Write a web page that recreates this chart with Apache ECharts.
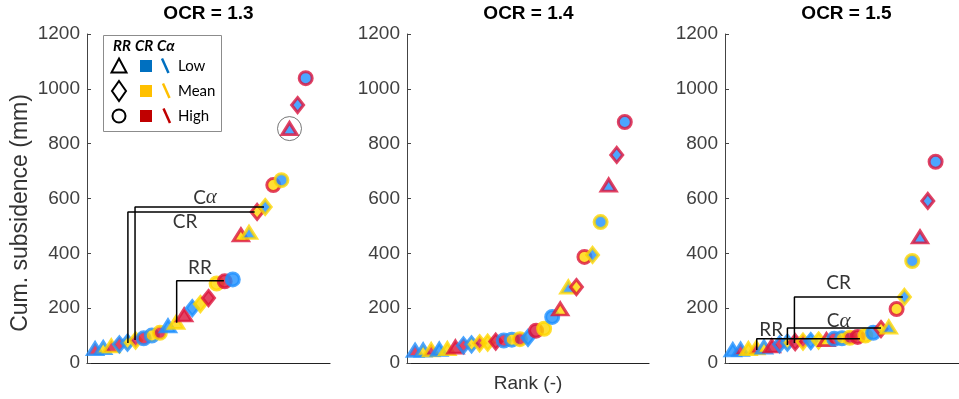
<!DOCTYPE html>
<html><head><meta charset="utf-8">
<script src="https://cdn.jsdelivr.net/npm/echarts/dist/echarts.min.js"></script>
<style>html,body{margin:0;padding:0;background:#fff}#c{width:959px;height:399px}</style>
</head><body><div id="c"></div>
<script>
// ---------- data ----------
const ranks = [1,2,3,4,5,6,7,8,9,10,11,12,13,14,15,16,17,18,19,20,21,22,23,24,25,26,27];
const yTicks = [0,200,400,600,800,1000,1200];
const panelTitles = ['OCR = 1.3','OCR = 1.4','OCR = 1.5'];

// OCR = 1.3
const v13 = [52,56,62,68,74,82,90,100,110,135,148,175,200,215,237,290,298,305,467,476,551,569,649,667,855,941,1039];
const rr13 = ['T','T','T','D','D','D','C','C','C','T','T','T','D','D','D','C','C','C','T','T','D','D','C','C','T','D','C'];
const cr13 = ['H','M','H','H','M','H','H','M','H','L','M','H','L','M','H','M','H','L','M','L','M','L','M','L','L','L','L'];
const ca13 = ['L','L','M','L','L','M','L','L','M','L','M','H','L','M','H','M','H','L','H','M','H','M','H','M','H','H','H'];

// OCR = 1.4
const v14 = [46,47,48,50,52,58,64,68,72,74,78,82,85,87,92,118,125,168,197,277,277,387,394,514,649,759,879];
const rr14 = ['T','T','T','T','T','T','D','D','D','D','D','C','C','C','D','C','C','C','T','T','D','C','D','C','T','D','C'];
const cr14 = ['H','M','H','L','M','H','H','M','H','M','H','H','M','H','L','H','M','L','M','L','M','M','L','L','L','L','L'];
const ca14 = ['L','L','M','L','M','H','L','L','M','M','H','L','L','M','L','H','M','L','H','M','H','H','M','M','H','H','H'];

// OCR = 1.5
const v15 = [48,50,52,55,58,62,68,74,76,78,80,82,85,88,90,92,95,100,110,124,131,197,241,372,460,591,734];
const rr15 = ['T','T','T','T','T','T','D','D','D','D','D','D','T','C','C','C','C','C','C','D','T','C','D','C','T','D','C'];
const cr15 = ['L','H','M','H','M','H','H','M','H','H','L','M','M','H','M','H','H','M','L','M','L','M','L','L','L','L','L'];
const ca15 = ['L','L','M','M','L','H','L','L','H','M','L','M','H','L','L','M','H','M','L','H','M','H','M','M','H','H','H'];

// annotation brackets [rank, value]
const ann13Ca = [[5.93,84],[5.93,569],[21.85,569]];
const ann13CR = [[5.05,73],[5.05,551],[20.7,551]];
const ann13RR = [[11.07,147],[11.07,300],[16.9,300]];
const ann15CR = [[8.9,73],[8.9,241],[22.8,241]];
const ann15Ca = [[8.0,66],[8.0,128],[20.0,128]];
const ann15RR = [[4.07,47],[4.07,88],[17.3,88]];
const lbl13 = [[14.57,602,'Ca'],[12.1,514,'CR'],[13.95,346,'RR']];
const lbl15 = [[14.57,292,'CR'],[14.57,153,'Ca'],[5.93,120,'RR']];
const circled13 = [[25,855]];

// ---------- styling ----------
const COL = {L:'#1E90FF', M:'#FFD700', H:'#DC143C'};
const SYM = {T:'triangle', D:'diamond', C:'circle'};
const SZ = {T:[15,12], D:[12,15], C:13};
const FONT = 'Liberation Sans, Arial, sans-serif';
const GRIDS = [{left:87,width:243},{left:407,width:242},{left:725,width:243}];

function pts(vals, rr, cr, ca){
  return ranks.map((r,i)=>({
    value:[r, vals[i]],
    symbol:SYM[rr[i]], symbolSize:SZ[rr[i]],
    itemStyle:{color:COL[cr[i]], borderColor:COL[ca[i]], borderWidth:3}
  }));
}
function bracket(d, idx){
  return {type:'line', xAxisIndex:idx, yAxisIndex:idx, data:d, symbol:'none', silent:true, z:5,
    lineStyle:{color:'#000', width:1.5}, animation:false};
}
function labels(d, idx){
  return {type:'scatter', xAxisIndex:idx, yAxisIndex:idx, data:d, symbolSize:1, z:6, silent:true,
    itemStyle:{color:'rgba(0,0,0,0)'},
    label:{show:true, position:'inside', color:'#000', fontFamily:'Lato, Open Sans, sans-serif', fontSize:19,
      formatter:p=> p.value[2]==='Ca' ? 'C{a|α}' : p.value[2],
      rich:{a:{fontFamily:'Liberation Serif, DejaVu Serif, serif', fontStyle:'italic', fontSize:21, color:'#000'}}}};
}

const grid = GRIDS.map(g=>({left:g.left, width:g.width, top:34, height:329, containLabel:false}));
const xAxis = GRIDS.map((g,i)=>({type:'value', gridIndex:i, min:0, max:30,
  axisLine:{show:true, lineStyle:{color:'#222', width:1.2}}, axisTick:{show:false}, axisLabel:{show:false}, splitLine:{show:false},
  name: i===1 ? 'Rank (-)' : '', nameLocation:'middle', nameGap:11,
  nameTextStyle:{fontFamily:FONT, fontSize:19, color:'#333'}}));
const yAxis = GRIDS.map((g,i)=>({type:'value', gridIndex:i, min:0, max:1200, interval:200,
  axisLine:{show:true, lineStyle:{color:'#444', width:1}},
  axisTick:{show:true, inside:true, length:4, lineStyle:{color:'#444'}},
  axisLabel:{fontFamily:FONT, fontSize:19, color:'#404040', margin:7,
    formatter:v=> yTicks.indexOf(v)>=0 ? String(v) : ''},
  splitLine:{show:false}}));

const series = [
  {type:'scatter', xAxisIndex:0, yAxisIndex:0, data:pts(v13,rr13,cr13,ca13), z:2, animation:false},
  {type:'scatter', xAxisIndex:1, yAxisIndex:1, data:pts(v14,rr14,cr14,ca14), z:2, animation:false},
  {type:'scatter', xAxisIndex:2, yAxisIndex:2, data:pts(v15,rr15,cr15,ca15), z:2, animation:false},
  {type:'scatter', xAxisIndex:0, yAxisIndex:0, data:circled13, symbol:'circle', symbolSize:24, z:4, silent:true,
    itemStyle:{color:'rgba(0,0,0,0)', borderColor:'#555', borderWidth:1}},
  bracket(ann13Ca,0), bracket(ann13CR,0), bracket(ann13RR,0),
  bracket(ann15CR,2), bracket(ann15Ca,2), bracket(ann15RR,2),
  labels(lbl13,0), labels(lbl15,2)
];

// legend (layout element) and titles
const LC = {L:'#0070C0', M:'#FFC000', H:'#C00000'};
const lf = 'Lato, Open Sans, sans-serif';
const graphic = [
  {type:'rect', shape:{x:103.5,y:35.5,width:118,height:96}, style:{fill:'#fff', stroke:'#8c8c8c', lineWidth:1}, z:10},
  {type:'text', x:113, y:46, style:{text:'RR', font:'italic bold 15px '+lf, fill:'#000', textVerticalAlign:'middle'}, z:11},
  {type:'text', x:135, y:46, style:{text:'CR', font:'italic bold 15px '+lf, fill:'#000', textVerticalAlign:'middle'}, z:11},
  {type:'text', x:157, y:46, style:{text:'Cα', font:'italic bold 15px '+lf, fill:'#000', textVerticalAlign:'middle'}, z:11},
  {type:'polygon', shape:{points:[[119,58.5],[126.5,72.5],[111.5,72.5]]}, style:{fill:'none', stroke:'#000', lineWidth:2}, z:11},
  {type:'polygon', shape:{points:[[119,81],[126,91],[119,101],[112,91]]}, style:{fill:'none', stroke:'#000', lineWidth:2}, z:11},
  {type:'circle', shape:{cx:119,cy:116,r:6.5}, style:{fill:'none', stroke:'#000', lineWidth:2}, z:11},
  {type:'rect', shape:{x:140,y:60,width:12,height:12}, style:{fill:LC.L}, z:11},
  {type:'rect', shape:{x:140,y:85,width:12,height:12}, style:{fill:LC.M}, z:11},
  {type:'rect', shape:{x:140,y:110,width:12,height:12}, style:{fill:LC.H}, z:11},
  {type:'line', shape:{x1:162,y1:58.5,x2:168.5,y2:73}, style:{stroke:LC.L, lineWidth:2.5}, z:11},
  {type:'line', shape:{x1:163,y1:83.5,x2:169.5,y2:98}, style:{stroke:LC.M, lineWidth:2.5}, z:11},
  {type:'line', shape:{x1:163.5,y1:108.5,x2:170,y2:123}, style:{stroke:LC.H, lineWidth:2.5}, z:11},
  {type:'text', x:178, y:66, style:{text:'Low', font:'15px '+lf, fill:'#000', textVerticalAlign:'middle'}, z:11},
  {type:'text', x:178, y:91, style:{text:'Mean', font:'15px '+lf, fill:'#000', textVerticalAlign:'middle'}, z:11},
  {type:'text', x:178, y:116, style:{text:'High', font:'15px '+lf, fill:'#000', textVerticalAlign:'middle'}, z:11},
  {type:'text', x:21, y:213, rotation:Math.PI/2, style:{text:'Cum. subsidence (mm)', font:'23px '+FONT, fill:'#333', textAlign:'center', textVerticalAlign:'middle'}},
];
GRIDS.forEach((g,i)=>graphic.push({type:'text', x:g.left+121.5, y:14,
  style:{text:panelTitles[i], font:'bold 19px '+FONT, fill:'#000', textAlign:'center', textVerticalAlign:'middle'}}));

const chart = echarts.init(document.getElementById('c'), null, {renderer:'canvas'});
chart.setOption({animation:false, grid, xAxis, yAxis, series, graphic});
</script></body></html>
